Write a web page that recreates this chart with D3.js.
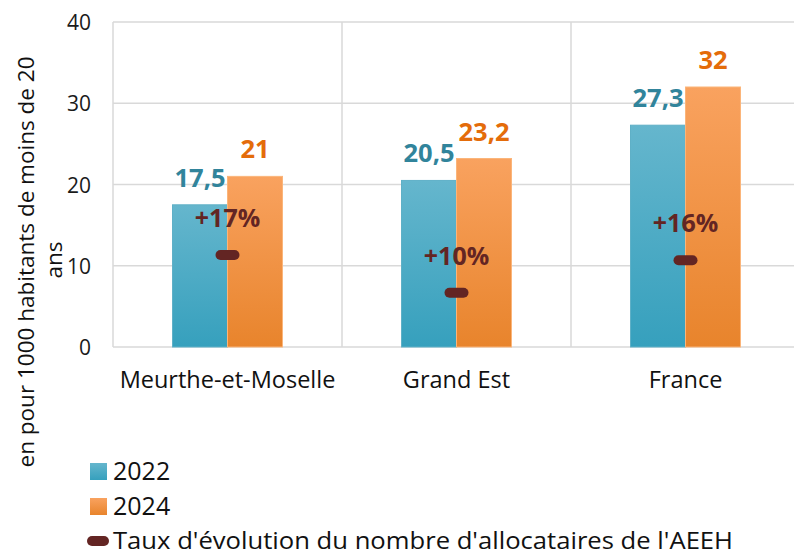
<!DOCTYPE html>
<html><head><meta charset="utf-8">
<script src="https://cdn.jsdelivr.net/npm/d3@7"></script>
<style>body{margin:0;background:#fff}svg{display:block}</style>
</head><body>
<svg id="c" width="794" height="551"></svg>
<script>
const categories = ["Meurthe-et-Moselle", "Grand Est", "France"];
const series = ["2022", "2024"];
const values2022 = [17.5, 20.5, 27.3];
const values2024 = [21, 23.2, 32];
const evolValues = [17, 10, 16];
const yTicks = [0, 10, 20, 30, 40];
const yTitle = ["en pour 1000 habitants de moins de 20", "ans"];
const evolLabel = "Taux d'évolution du nombre d'allocataires de l'AEEH";

const svg = d3.select("#c");
const L = 113, R = 800, T = 22, B = 347;
const x = d3.scaleBand().domain(categories).range([L, R]);
const x1 = d3.scaleBand().domain(series).range([0, 110]);
const y = d3.scaleLinear().domain([0, 40]).range([B, T]);
const y2 = d3.scaleLinear().domain([0, 60]).range([B, T]);
const fr = d3.formatLocale({decimal: ",", thousands: " ", grouping: [3], currency: ["", "€"]});
const fmt = v => fr.format(",")(v);

const defs = svg.append("defs");
function grad(id, top, bot) {
  const g = defs.append("linearGradient").attr("id", id).attr("x1", 0).attr("y1", 0).attr("x2", 0).attr("y2", 1);
  g.append("stop").attr("offset", "0%").attr("stop-color", top);
  g.append("stop").attr("offset", "100%").attr("stop-color", bot);
}
grad("gT", "#65b6cd", "#36a0bd");
grad("gO", "#f9a25f", "#e8842c");
const fills = {"2022": "url(#gT)", "2024": "url(#gO)"};
const strokes = {"2022": "#5fb0c7", "2024": "#fbb57a"};
const labelColors = {"2022": "#31849b", "2024": "#e46c0a"};

// gridlines
const grid = svg.append("g");
grid.selectAll("line.h").data(yTicks).join("line")
  .attr("x1", L).attr("x2", R).attr("y1", d => y(d)).attr("y2", d => y(d))
  .attr("stroke", "#d9d9d9").attr("stroke-width", 1.5);
const bounds = categories.map(c => x(c)).concat([R]);
grid.selectAll("line.v").data(bounds).join("line")
  .attr("x1", d => d).attr("x2", d => d).attr("y1", T).attr("y2", B)
  .attr("stroke", "#d9d9d9").attr("stroke-width", 1.5);

// y axis
const yAxis = d3.axisLeft(y).tickValues(yTicks).tickSize(0).tickPadding(22);
const ya = svg.append("g").attr("transform", `translate(${L},0)`).call(yAxis);
ya.select(".domain").remove();
ya.selectAll("text").attr("font-family", "Open Sans").attr("font-size", 21).attr("fill", "#1a1a1a").attr("dy", "0.36em");

// x axis
const xAxis = d3.axisBottom(x).tickSize(0).tickPadding(24);
const xa = svg.append("g").attr("transform", `translate(0,${B})`).call(xAxis);
xa.select(".domain").remove();
xa.selectAll("text").attr("font-family", "Open Sans").attr("font-size", 23.5).attr("fill", "#111");

// bars
const rows = [];
categories.forEach((c, i) => {
  rows.push({c, s: "2022", v: values2022[i]});
  rows.push({c, s: "2024", v: values2024[i]});
});
const bx = d => x(d.c) + x.bandwidth() / 2 - 55 + x1(d.s);
svg.append("g").selectAll("rect").data(rows).join("rect")
  .attr("x", bx).attr("width", x1.bandwidth())
  .attr("y", d => y(d.v)).attr("height", d => B - y(d.v))
  .attr("fill", d => fills[d.s]).attr("stroke", d => strokes[d.s]).attr("stroke-width", 1);

svg.append("g").selectAll("text").data(rows).join("text")
  .attr("x", d => bx(d) + x1.bandwidth() / 2).attr("y", d => y(d.v) - 18)
  .attr("text-anchor", "middle").attr("font-family", "Open Sans").attr("font-weight", 700)
  .attr("font-size", 25.5).attr("fill", d => labelColors[d.s]).text(d => fmt(d.v));

// evolution markers
const ev = categories.map((c, i) => ({c, v: evolValues[i]}));
svg.append("g").selectAll("line").data(ev).join("line")
  .attr("x1", d => x(d.c) + x.bandwidth() / 2 - 7).attr("x2", d => x(d.c) + x.bandwidth() / 2 + 7)
  .attr("y1", d => y2(d.v)).attr("y2", d => y2(d.v))
  .attr("stroke", "#632523").attr("stroke-width", 10).attr("stroke-linecap", "round");
svg.append("g").selectAll("text").data(ev).join("text")
  .attr("x", d => x(d.c) + x.bandwidth() / 2).attr("y", d => y2(d.v) - 28)
  .attr("text-anchor", "middle").attr("font-family", "Open Sans").attr("font-weight", 700)
  .attr("font-size", 25).attr("fill", "#632523").text(d => "+" + d.v + "%");

// y title
const yt = svg.append("g");
yt.append("text").attr("transform", "translate(34,262) rotate(-90)").attr("text-anchor", "middle")
  .attr("font-family", "Open Sans").attr("font-size", 22.5).attr("fill", "#111").text(yTitle[0]);
yt.append("text").attr("transform", "translate(62,260) rotate(-90)").attr("text-anchor", "middle")
  .attr("font-family", "Open Sans").attr("font-size", 22.5).attr("fill", "#111").text(yTitle[1]);

// legend
const lg = svg.append("g");
const legItems = [
  {t: series[0], f: fills["2022"], y: 480},
  {t: series[1], f: fills["2024"], y: 515}
];
legItems.forEach(it => {
  lg.append("rect").attr("x", 90).attr("y", it.y - 17).attr("width", 17).attr("height", 17).attr("fill", it.f);
  lg.append("text").attr("x", 113).attr("y", it.y).attr("font-family", "Open Sans").attr("font-size", 25)
    .attr("fill", "#111").text(it.t);
});
lg.append("line").attr("x1", 92).attr("x2", 104).attr("y1", 541).attr("y2", 541)
  .attr("stroke", "#632523").attr("stroke-width", 10).attr("stroke-linecap", "round");
lg.append("text").attr("x", 113).attr("y", 549).attr("font-family", "Open Sans").attr("font-size", 24)
  .attr("textLength", 620).attr("lengthAdjust", "spacingAndGlyphs").attr("fill", "#111").text(evolLabel);
</script>
</body></html>
